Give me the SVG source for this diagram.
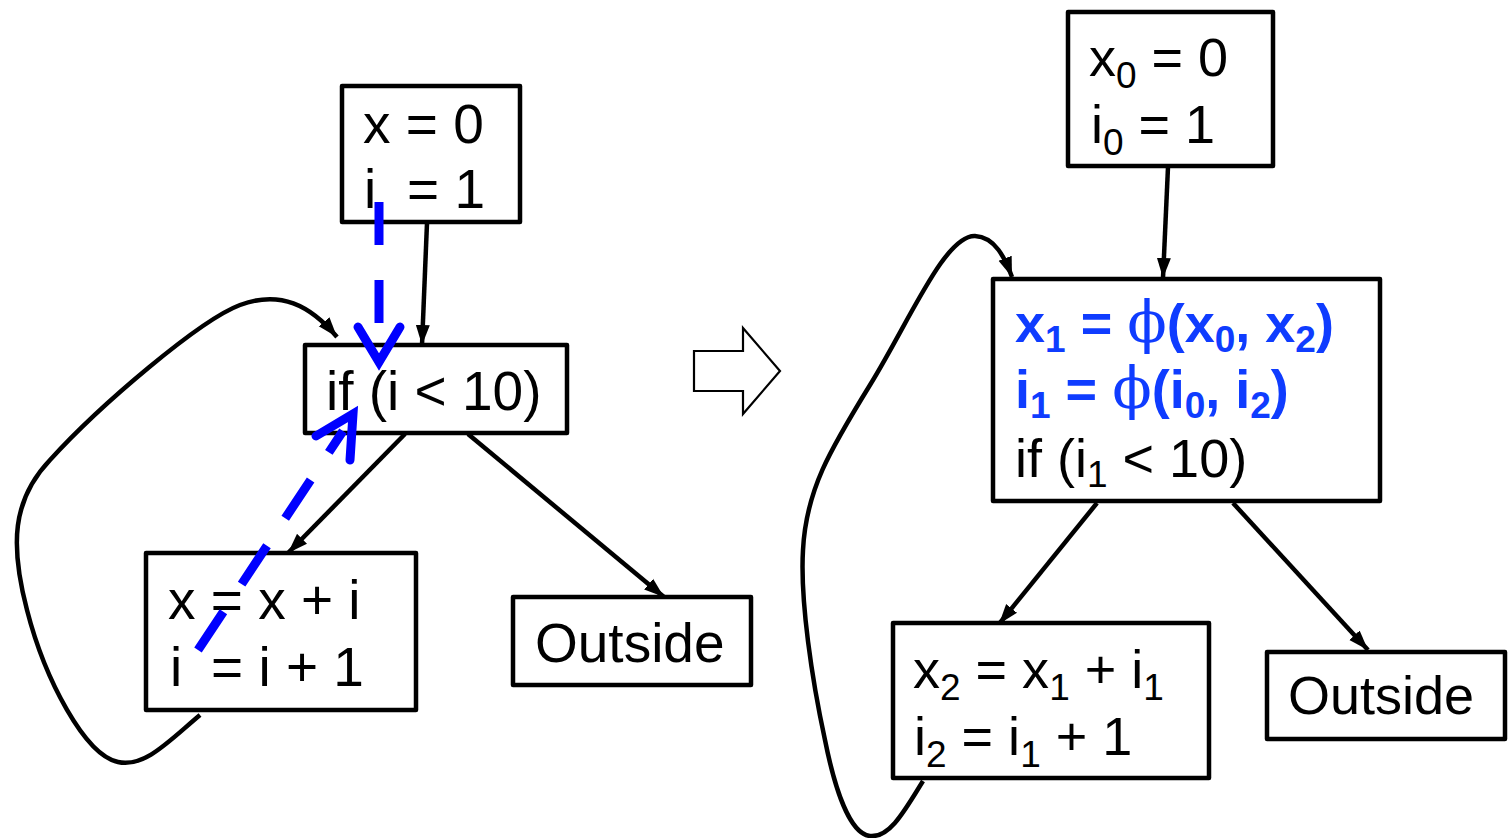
<svg xmlns="http://www.w3.org/2000/svg" width="1512" height="838" viewBox="0 0 1512 838">
<style>
.box{fill:#fff;stroke:#000;stroke-width:4.5;stroke-linejoin:round}
.t{font-family:"Liberation Sans",Arial,sans-serif;font-size:55px;fill:#000}
.tr{font-family:"Liberation Sans",Arial,sans-serif;font-size:54px;fill:#000}
.sub{font-size:37px}
.b{font-weight:bold;fill:#0f3cff}
.phi{font-family:"DejaVu Serif",serif;font-weight:normal}
.edge{fill:none;stroke:#000;stroke-width:4.5}
.blue{fill:none;stroke:#0000ff;stroke-width:9;stroke-linecap:butt}
.chev{fill:none;stroke:#0000ff;stroke-width:9;stroke-linecap:round;stroke-linejoin:miter}
</style>
<defs>
<marker id="ah" markerUnits="userSpaceOnUse" markerWidth="22" markerHeight="22" viewBox="0 0 22 22" refX="20" refY="11" orient="auto">
<path d="M0,4 L20,11 L0,18 Z" fill="#000"/>
</marker>
</defs>

<g id="connectors">
<line class="edge" x1="427" y1="223" x2="422" y2="345" marker-end="url(#ah)"/>
<line class="edge" x1="405" y1="434" x2="288" y2="553" marker-end="url(#ah)"/>
<line class="edge" x1="468" y1="434" x2="664" y2="597" marker-end="url(#ah)"/>
<path class="edge" d="M200,715 C170,740 145,768 118,762 C85,755 45,680 27,610 C10,545 12,500 50,460 C100,405 200,320 240,305 C280,290 310,305 337,337" marker-end="url(#ah)"/>
<line class="edge" x1="1168" y1="167" x2="1163" y2="278" marker-end="url(#ah)"/>
<line class="edge" x1="1097" y1="503" x2="999" y2="624" marker-end="url(#ah)"/>
<line class="edge" x1="1233" y1="503" x2="1368" y2="650" marker-end="url(#ah)"/>
<path class="edge" d="M923,781 C905,810 890,838 870,836 C850,834 835,790 825,740 C812,680 800,600 803,550 C806,490 830,450 870,385 C910,320 945,235 975,236 C995,237 1005,258 1012,277" marker-end="url(#ah)"/>
</g>

<g id="nodeA">
<rect class="box" x="342" y="86" width="178" height="136"/>
<text class="t" x="363" y="143">x = 0</text>
<text class="t" y="208"><tspan x="364">i</tspan><tspan x="407">= 1</tspan></text>
</g>

<g id="nodeB">
<rect class="box" x="305" y="345" width="262" height="88"/>
<text class="t" x="326" y="410">if (i &lt; 10)</text>
</g>

<g id="nodeC">
<rect class="box" x="146" y="553" width="270" height="157"/>
<text class="t" x="168" y="619">x = x + i</text>
<text class="t" y="686"><tspan x="170">i</tspan><tspan x="211">= i + 1</tspan></text>
</g>

<g id="nodeD">
<rect class="box" x="513" y="597" width="238" height="88"/>
<text class="t" x="535" y="662">Outside</text>
</g>

<g id="dataflow">
<line class="blue" x1="379" y1="202" x2="379" y2="323" stroke-dasharray="43 35"/>
<polyline class="chev" points="358,327 379,362 400,327"/>
<line class="blue" x1="198" y1="650" x2="343" y2="431" stroke-dasharray="46 33"/>
<polyline class="chev" points="316,436 353,414 350,460"/>
</g>

<g id="bigArrow">
<polygon points="694,351 743,351 743,328 780,371 743,414 743,391 694,391" fill="#fff" stroke="#000" stroke-width="2.2"/>
</g>

<g id="nodeE">
<rect class="box" x="1068" y="12" width="205" height="154"/>
<text class="tr" x="1089" y="76">x<tspan class="sub" dy="12">0</tspan><tspan dy="-12"> = 0</tspan></text>
<text class="tr" x="1091" y="143">i<tspan class="sub" dy="12">0</tspan><tspan dy="-12"> = 1</tspan></text>
</g>

<g id="nodeF">
<rect class="box" x="993" y="279" width="387" height="222"/>
<text class="tr b" x="1015" y="342">x<tspan class="sub" dy="10">1</tspan><tspan dy="-10"> = </tspan><tspan class="phi" font-size="58">ϕ</tspan>(x<tspan class="sub" dy="10">0</tspan><tspan dy="-10">, x</tspan><tspan class="sub" dy="10">2</tspan><tspan dy="-10">)</tspan></text>
<text class="tr b" x="1015" y="408">i<tspan class="sub" dy="10">1</tspan><tspan dy="-10"> = </tspan><tspan class="phi" font-size="58">ϕ</tspan>(i<tspan class="sub" dy="10">0</tspan><tspan dy="-10">, i</tspan><tspan class="sub" dy="10">2</tspan><tspan dy="-10">)</tspan></text>
<text class="tr" x="1015" y="477">if (i<tspan class="sub" dy="10">1</tspan><tspan dy="-10"> &lt; 10)</tspan></text>
</g>

<g id="nodeG">
<rect class="box" x="893" y="623" width="316" height="155"/>
<text class="tr" x="913" y="688">x<tspan class="sub" dy="12">2</tspan><tspan dy="-12"> = x</tspan><tspan class="sub" dy="12">1</tspan><tspan dy="-12"> + i</tspan><tspan class="sub" dy="12">1</tspan></text>
<text class="tr" x="914" y="755">i<tspan class="sub" dy="12">2</tspan><tspan dy="-12"> = i</tspan><tspan class="sub" dy="12">1</tspan><tspan dy="-12"> + 1</tspan></text>
</g>

<g id="nodeH">
<rect class="box" x="1267" y="652" width="238" height="87"/>
<text class="tr" x="1288" y="714">Outside</text>
</g>
</svg>
